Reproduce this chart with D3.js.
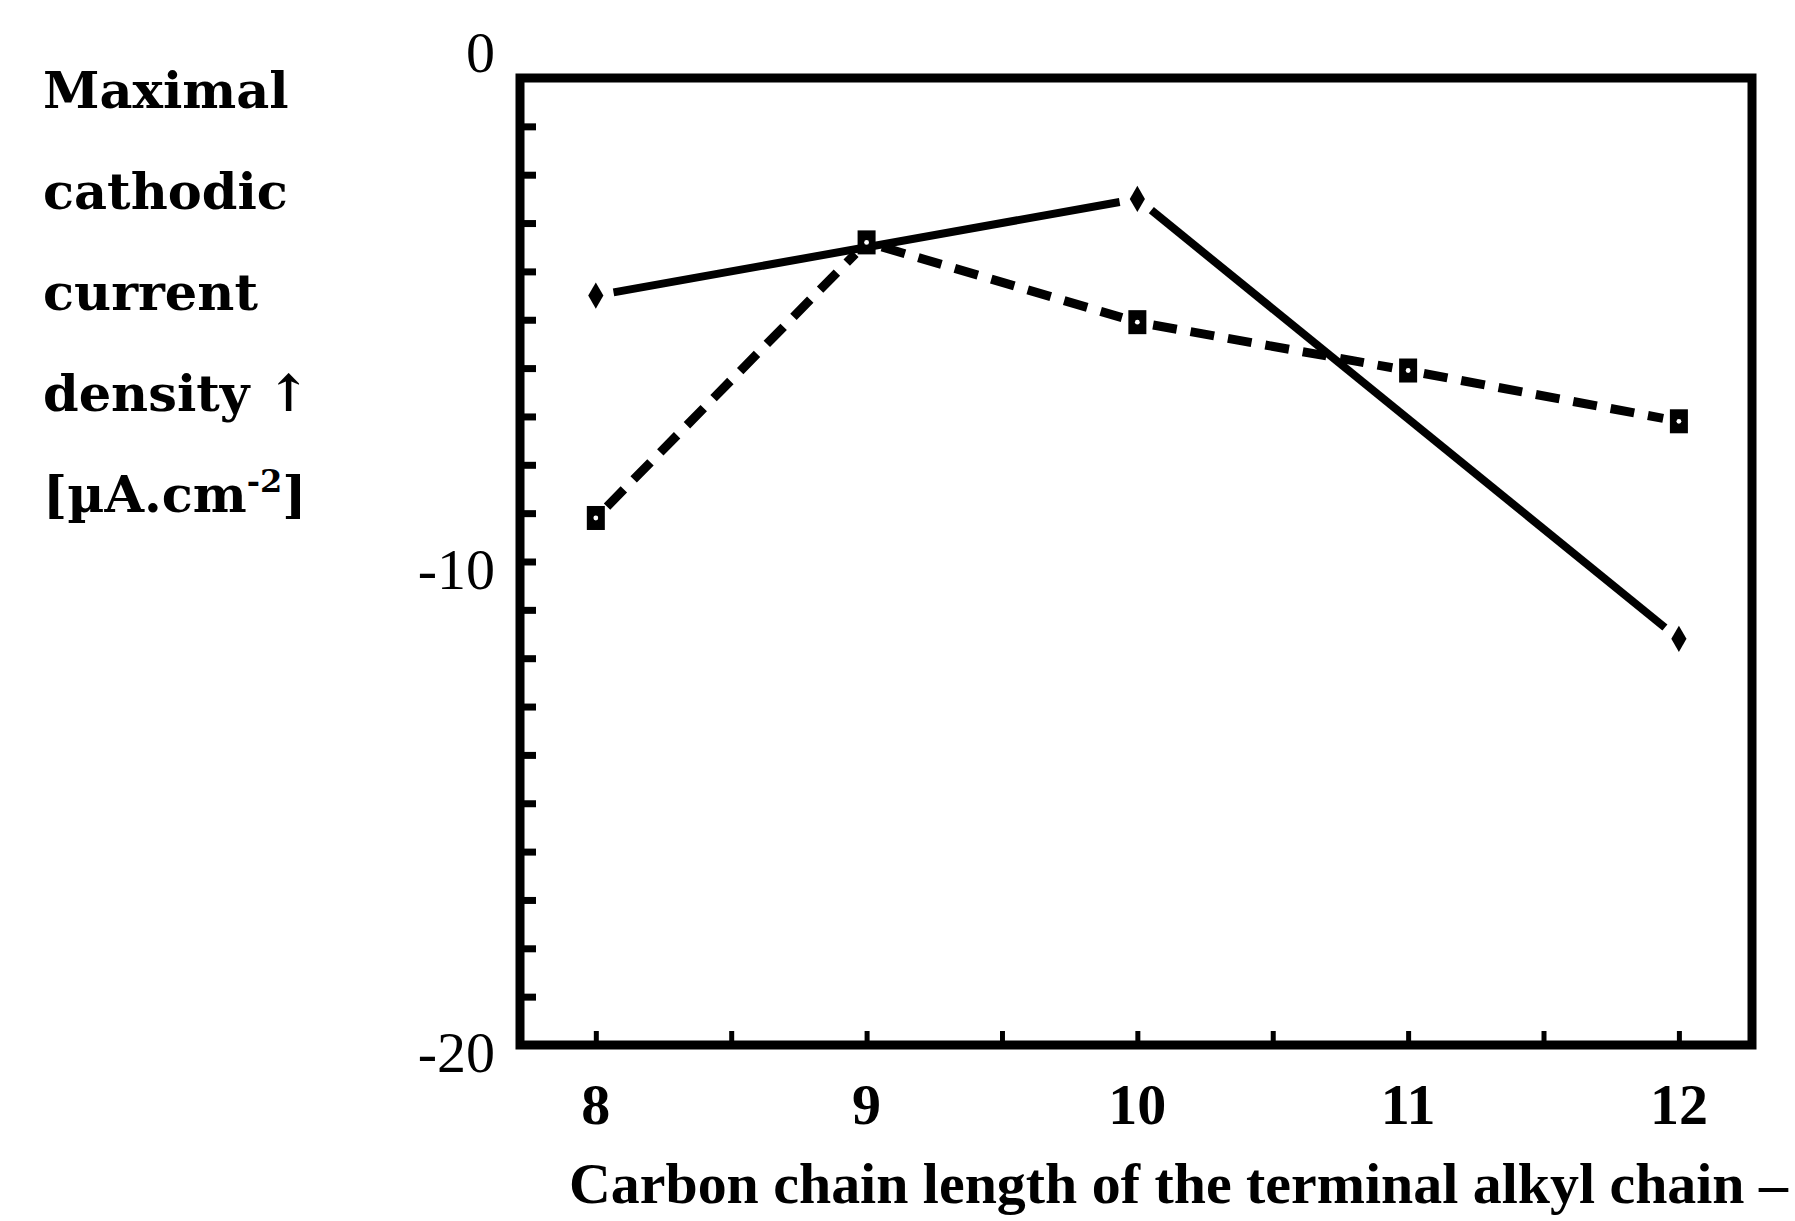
<!DOCTYPE html>
<html>
<head>
<meta charset="utf-8">
<script src="https://cdn.jsdelivr.net/npm/d3@7"></script>
<style>
body { margin: 0; background: #fff; }
text { font-family: "Liberation Serif", "DejaVu Serif", serif; font-weight: bold; fill: #000; }
.ytitle { font-family: "DejaVu Serif", serif; }
</style>
</head>
<body>
<div id="chart"></div>
<script>
// data
var chainLength = [8, 9, 10, 11, 12];
var solidX = [8, 10, 12];
var solidY = [-4.5, -2.5, -11.6];
var dashedX = [8, 9, 10, 11, 12];
var dashedY = [-9.1, -3.4, -5.05, -6.05, -7.1];
var yTickLabels = [0, -10, -20];
var yTitleLines = ["Maximal", "cathodic", "current", "density \u2191"];
var xTitle = "Carbon chain length of the terminal alkyl chain \u2013";

var svgWidth = 1795;
var svgHeight = 1221;

var svg = d3.select("#chart")
    .append("svg")
    .attr("width", svgWidth)
    .attr("height", svgHeight);

var xScale = d3.scaleLinear()
    .domain([7.72, 12.27])
    .range([520, 1752]);

var yScale = d3.scaleLinear()
    .domain([0, -20])
    .range([78, 1045]);

// frame
svg.append("rect")
    .attr("x", xScale(7.72))
    .attr("y", yScale(0))
    .attr("width", xScale(12.27) - xScale(7.72))
    .attr("height", yScale(-20) - yScale(0))
    .attr("fill", "none")
    .attr("stroke", "#000")
    .attr("stroke-width", 9);

// minor ticks, pointing inward
var leftTicks = d3.axisRight(yScale)
    .tickValues(d3.range(-19, 0, 1))
    .tickSize(16)
    .tickFormat("");
svg.append("g")
    .attr("transform", `translate(${xScale(7.72)}, 0)`)
    .call(leftTicks)
    .call(g => g.select(".domain").remove())
    .call(g => g.selectAll("line").attr("stroke-width", 7));

var bottomTicks = d3.axisTop(xScale)
    .tickValues(d3.range(8, 12.01, 0.5))
    .tickSize(14)
    .tickFormat("");
svg.append("g")
    .attr("transform", `translate(0, ${yScale(-20)})`)
    .call(bottomTicks)
    .call(g => g.select(".domain").remove())
    .call(g => g.selectAll("line").attr("stroke-width", 5));

// tick labels ("0" sits above the top edge in the original)
svg.selectAll(".ylab")
    .data(yTickLabels)
    .enter()
    .append("text")
    .attr("class", "ylab")
    .attr("x", 495)
    .attr("y", d => d === 0 ? yScale(d) - 6 : yScale(d) + 27)
    .attr("text-anchor", "end")
    .attr("font-size", "58px")
    .style("font-weight", "normal")
    .text(d => d === 0 ? "0" : "-" + Math.abs(d));

svg.selectAll(".xlab")
    .data(chainLength)
    .enter()
    .append("text")
    .attr("class", "xlab")
    .attr("x", d => xScale(d))
    .attr("y", 1124)
    .attr("text-anchor", "middle")
    .attr("font-size", "58px")
    .text(d => d);

// y title, one word per line
svg.selectAll(".ytitle")
    .data(yTitleLines)
    .enter()
    .append("text")
    .attr("class", "ytitle")
    .attr("x", 43)
    .attr("y", (d, i) => 108 + i * 101)
    .attr("font-size", "51px")
    .text(d => d);

var unit = svg.append("text")
    .attr("class", "ytitle")
    .attr("x", 43)
    .attr("y", 108 + 4 * 101)
    .attr("font-size", "51px");
unit.append("tspan").text("[\u00b5A.cm");
unit.append("tspan").attr("font-size", "32px").attr("dy", -20).text("-2");
unit.append("tspan").attr("dy", 20).text("]");

svg.append("text")
    .attr("x", 569)
    .attr("y", 1203)
    .attr("font-size", "58px")
    .attr("textLength", 1219)
    .attr("lengthAdjust", "spacingAndGlyphs")
    .text(xTitle);

// line pieces stop short of the markers
function pieces(xs, ys, gap) {
    var out = [];
    for (var i = 0; i < xs.length - 1; i++) {
        var x0 = xScale(xs[i]), y0 = yScale(ys[i]);
        var x1 = xScale(xs[i + 1]), y1 = yScale(ys[i + 1]);
        var len = Math.hypot(x1 - x0, y1 - y0);
        var ux = (x1 - x0) / len, uy = (y1 - y0) / len;
        out.push([[x0 + ux * gap, y0 + uy * gap], [x1 - ux * gap, y1 - uy * gap]]);
    }
    return out;
}

var lineGen = d3.line();

svg.selectAll(".solidSeg")
    .data(pieces(solidX, solidY, 18))
    .enter()
    .append("path")
    .attr("d", d => lineGen(d))
    .attr("stroke", "#000")
    .attr("stroke-width", 8)
    .attr("fill", "none");

svg.selectAll(".dashSeg")
    .data(pieces(dashedX, dashedY, 16))
    .enter()
    .append("path")
    .attr("d", d => lineGen(d))
    .attr("stroke", "#000")
    .attr("stroke-width", 9)
    .attr("stroke-dasharray", "24,14")
    .attr("fill", "none");

// markers
var diamond = d3.symbol().type(d3.symbolDiamond).size(200);
svg.selectAll(".diamond")
    .data(solidX.map((d, i) => [d, solidY[i]]))
    .enter()
    .append("path")
    .attr("d", diamond)
    .attr("transform", d => `translate(${xScale(d[0])}, ${yScale(d[1])})`)
    .attr("fill", "#000");

var squares = svg.selectAll(".square")
    .data(dashedX.map((d, i) => [d, dashedY[i]]))
    .enter()
    .append("g")
    .attr("transform", d => `translate(${xScale(d[0])}, ${yScale(d[1])})`);
squares.append("rect")
    .attr("x", -9).attr("y", -12)
    .attr("width", 18).attr("height", 24)
    .attr("fill", "#000");
squares.append("circle")
    .attr("r", 2.4)
    .attr("fill", "#fff");
</script>
</body>
</html>
